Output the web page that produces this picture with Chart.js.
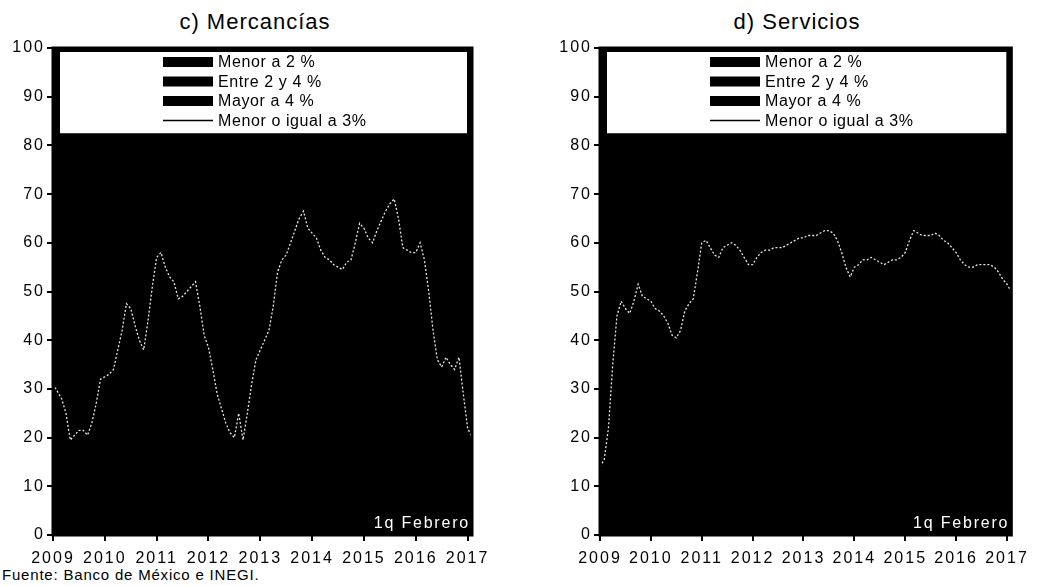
<!DOCTYPE html>
<html><head><meta charset="utf-8">
<script src="https://cdn.jsdelivr.net/npm/chart.js@4.4.1/dist/chart.umd.min.js"></script>
<style>
body{margin:0;background:#fff;width:1037px;height:586px;overflow:hidden;position:relative;font-family:"Liberation Sans",Arial,sans-serif;}
.t{position:absolute;top:9px;font-size:22px;letter-spacing:1px;color:#000;white-space:nowrap;transform:translateX(-50%);}
#src{position:absolute;left:2px;top:566px;font-size:15px;letter-spacing:0.8px;color:#000;}
#c1{position:absolute;left:0;top:0;}
#c2{position:absolute;left:518px;top:0;}
</style></head>
<body>
<div class="t" style="left:255px">c) Mercancías</div>
<div class="t" style="left:797px">d) Servicios</div>
<div id="src">Fuente: Banco de México e INEGI.</div>
<canvas id="c1" width="500" height="586" style="width:500px;height:586px"></canvas>
<canvas id="c2" width="519" height="586" style="width:519px;height:586px"></canvas>
<script>
// Series labels
const seriesLabels = ["Menor a 2 %", "Entre 2 y 4 %", "Mayor a 4 %", "Menor o igual a 3%"];
const yearTicks = [2009, 2010, 2011, 2012, 2013, 2014, 2015, 2016, 2017];
const noteText = "1q Febrero";

// Monthly line "Menor o igual a 3%" Jan 2009 .. Feb 2017
const mercLine = [
 31,29.5,28,25,19.5,20.5,21.5,21.5,20.5,23,27,32,
 32.5,33,34,38,42,47.5,46.5,43,40,38,44,51,
 57,58,55,53,52,48.5,49,50,51,52,47,41,
 38.5,34,29,26,23,21,20,25,19.5,25,31,36,
 38,40,42,47,54,56.5,57.5,60,62.5,65,66.5,63,
 62,61,58.5,57,56.5,55.5,55,54.5,56,56.5,60,64,
 63,61,60,62.5,64.5,66.5,68,69,65,59,58.5,58,
 58,60,56.5,50,42,36,34.5,36.5,35,34,36.5,29,
 22,20];
const servLine = [
 14,15.5,22,35,45,48,46.5,45.5,48,51.5,49,48.5,
 48,46.5,46,45,43.5,41,40.5,42,46,47.5,48.5,54,
 60,60.5,59,57.5,57,59,59.5,60,59.5,58.5,57,55.5,
 55.5,57,58,58.5,58.5,59,59,59,59.5,60,60.5,61,
 61,61.5,61.5,61.5,62,62.5,62.5,62,60.5,58,55,53,
 55,55.5,56.5,56.5,57,56.5,56,55.5,56,56.5,56.5,57,
 58,60.5,62.5,62,61.5,61.5,61.5,62,61.5,60.5,60,59,
 58,56.5,55.5,55,55,55.5,55.5,55.5,55.5,55,54,52.5,
 51.5,50];

// Stacked distribution (semi-annual estimates; rendered black in the reference)
const bandDates = [2009,2009.5,2010,2010.5,2011,2011.5,2012,2012.5,2013,2013.5,2014,2014.5,2015,2015.5,2016,2016.5,2017,2017.083];
const mercMenor2 = [22,12,22,38,48,40,27,14,12,48,52,45,48,56,60,30,28,12];
const mercEntre  = [20,22,25,22,20,22,25,22,22,20,22,24,22,22,20,28,26,24];
const mercMayor  = [58,66,53,40,32,38,48,64,66,32,26,31,30,22,20,42,46,64];
const servMenor2 = [8,40,40,36,52,50,50,52,54,44,48,50,50,54,52,48,48,44];
const servEntre  = [20,22,22,20,20,22,22,22,22,24,22,22,22,20,22,22,20,22];
const servMayor  = [72,38,38,44,28,28,28,26,24,32,30,28,28,26,26,30,32,34];

const FONT = '"Liberation Sans", Arial, sans-serif';
const monthX = i => 2009 + i / 12;
const pts = (xs, ys) => ys.map((v, i) => ({x: xs(i), y: v}));

const framePlugin = {
  id: 'framePlugin',
  beforeLayout(c){ c.ctx.letterSpacing = '2px'; },
  beforeDraw(c){ c.ctx.letterSpacing = '2px'; },
  afterDatasetsDraw(c){
    const {ctx, chartArea: a, scales: {y}} = c;
    ctx.save();
    ctx.letterSpacing = '0.6px';
    ctx.strokeStyle = '#000'; ctx.lineWidth = 3;
    ctx.strokeRect(a.left, a.top, a.right - a.left, a.bottom - a.top);
    const bx = a.left + 7, by = a.top + 4, bw = a.right - 5 - bx, bh = y.getPixelForValue(82.5) - by;
    ctx.fillStyle = '#fff'; ctx.fillRect(bx, by, bw, bh);
    ctx.font = '16px ' + FONT; ctx.textBaseline = 'middle'; ctx.textAlign = 'left';
    const sx = a.left + 110, sw = 50;
    const rows = [14, 33.5, 53, 72.5];
    c.data.datasets.forEach((ds, i) => {
      const cy = a.top + rows[i];
      ctx.fillStyle = '#000';
      if (i < 3) { ctx.fillRect(sx, cy - 5, sw, 10); }
      else { ctx.fillRect(sx, cy - 0.75, sw, 1.5); }
      ctx.fillText(ds.label, sx + sw + 5, cy + 1);
    });
    ctx.fillStyle = '#fff'; ctx.textAlign = 'right'; ctx.textBaseline = 'alphabetic';
    ctx.letterSpacing = '1.8px';
    ctx.fillText(noteText, a.right - 2, a.bottom - 7);
    ctx.restore();
  }
};

function makeChart(id, m2, e24, m4, line, yWidth, padRight){
  const band = arr => arr.map((v, i) => ({x: bandDates[i], y: v}));
  const area = (k, arr, fill) => ({label: seriesLabels[k], data: band(arr), backgroundColor: '#000', borderColor: '#000', borderWidth: 2, fill: fill, pointRadius: 0, stack: 'dist'});
  return new Chart(document.getElementById(id), {
    type: 'line',
    data: {datasets: [
      area(0, m2, 'origin'),
      area(1, e24, '-1'),
      area(2, m4, '-1'),
      {label: seriesLabels[3], data: pts(monthX, line), borderColor: '#e6e6e6', borderWidth: 1.3, borderDash: [2, 2], fill: false, pointRadius: 0, stack: 'line', order: -1}
    ]},
    options: {
      responsive: false, animation: false,
      layout: {padding: {top: 48, right: padRight, left: 0, bottom: 0}},
      plugins: {legend: {display: false}, tooltip: {enabled: false}, title: {display: false}},
      scales: {
        x: {type: 'linear', min: 2009, max: 2017.085,
            afterBuildTicks: s => { s.ticks = yearTicks.map(v => ({value: v})); },
            afterFit: s => { s.height = 51; },
            grid: {display: true, drawOnChartArea: false, drawTicks: true, tickLength: 6, color: '#000', lineWidth: 2},
            border: {display: true, color: '#000', width: 2},
            ticks: {color: '#000', font: {family: FONT, size: 16}, padding: 8, maxRotation: 0, autoSkip: false, callback: v => String(v)}},
        y: {stacked: true, min: 0, max: 100,
            afterFit: s => { s.width = yWidth; },
            grid: {display: true, drawOnChartArea: false, drawTicks: true, tickLength: 6, color: '#000', lineWidth: 2},
            border: {display: true, color: '#000', width: 2},
            ticks: {stepSize: 10, color: '#000', font: {family: FONT, size: 16}, padding: 2}}
      }
    },
    plugins: [framePlugin]
  });
}

makeChart('c1', mercMenor2, mercEntre, mercMayor, mercLine, 53, 28);
makeChart('c2', servMenor2, servEntre, servMayor, servLine, 82, 20);
</script>
</body></html>
